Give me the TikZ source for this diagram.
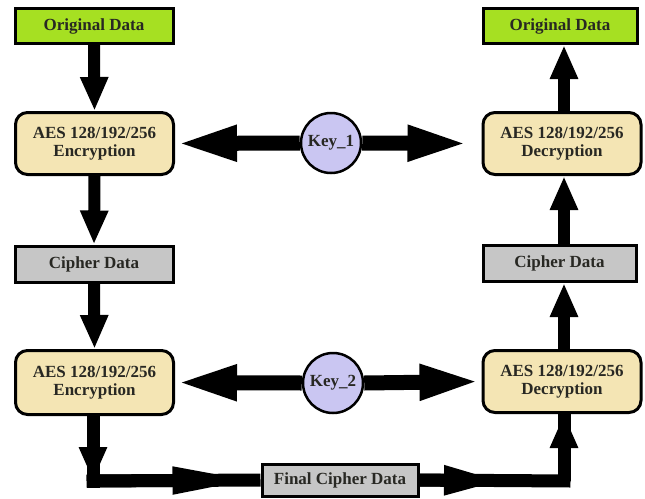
\documentclass[tikz,border=0pt]{standalone}
\usepackage{fontspec}
\setmainfont{Liberation Serif}
\usetikzlibrary{arrows.meta,calc}
\definecolor{gfill}{RGB}{166,224,34}
\definecolor{wfill}{RGB}{244,229,180}
\definecolor{cfill}{RGB}{198,198,198}
\definecolor{kfill}{RGB}{202,198,242}
\definecolor{tcol}{RGB}{40,40,35}
\begin{document}
\begin{tikzpicture}[x=1pt,y=-1pt,
  every node/.style={font=\fontsize{17}{18.5}\selectfont\bfseries, text=tcol, align=center, inner sep=0pt},
  databox/.style={draw=black, line width=3pt, rectangle},
  aesbox/.style={draw=black, line width=3pt, rounded corners=12pt, fill=wfill, minimum width=158pt, minimum height=62pt},
  keynode/.style={draw=black, line width=2.5pt, circle, fill=kfill, minimum size=60pt},
  varrow/.style={line width=12pt, -{Triangle[length=34pt,width=26pt]}},
  karrow/.style={line width=15pt, -{Triangle[length=62pt,width=32pt]}},
  barrow/.style={line width=13pt, -{Triangle[length=88pt,width=24pt]}},
  shaft/.style={line width=13pt, line join=miter}
]
\useasboundingbox (0,0) rectangle (645,498);

% left column
\node[databox, fill=gfill, minimum width=158pt, minimum height=35pt] (origL) at (94,26) {Original Data};
\node[aesbox] (encT) at (94.5,143.5) {AES 128/192/256\\Encryption};
\node[databox, fill=cfill, minimum width=158pt, minimum height=36pt] (cipL) at (94,264) {Cipher Data};
\node[aesbox, minimum height=64pt] (encB) at (94.5,382.5) {AES 128/192/256\\Encryption};

% right column
\node[databox, fill=gfill, minimum width=154pt, minimum height=35pt] (origR) at (560,26) {Original Data};
\node[aesbox] (decT) at (562,143.5) {AES 128/192/256\\Decryption};
\node[databox, fill=cfill, minimum width=153pt, minimum height=36pt] (cipR) at (559.5,263.5) {Cipher Data};
\node[aesbox] (decB) at (562,381.5) {AES 128/192/256\\Decryption};

% keys
\node[keynode] (key1) at (331,143) {Key\_1};
\node[keynode] (key2) at (333,383) {Key\_2};

% final
\node[databox, fill=cfill, minimum width=156pt, minimum height=32pt] (final) at (340,480) {Final Cipher Data};

\coordinate (rx) at (564,0);
\coordinate (c1) at (93,481);
\coordinate (c2) at (564,481);
\coordinate (h2) at (506,481);

% vertical arrows left
\draw[varrow] (origL.south) -- (encT.north);
\draw[varrow] (encT.south) -- (cipL.north);
\draw[varrow] (cipL.south) -- (encB.north);

% vertical arrows right
\draw[varrow] (decT.north -| rx) -- (origR.south -| rx);
\draw[varrow] (cipR.north -| rx) -- (decT.south -| rx);
\draw[varrow] (decB.north -| rx) -- (cipR.south -| rx);

% key arrows
\draw[karrow] (key1.west) -- (encT.east);
\draw[karrow] (key1.east) -- ($(decT.west)+(-12,0)$);
\draw[karrow] (key2.west) -- (encB.east);
\draw[karrow] (key2.east) -- (decB.west);

% bottom path
\draw[shaft] (encB.south -| c1) -- ($(c1)+(0,6.5)$);
\draw[shaft] ($(c1)+(-6.5,0)$) -- (final.west);
\draw[shaft] (final.east) -- ($(c2)+(6.5,0)$);
\draw[shaft] (c2) -- (decB.south -| rx);
\draw[varrow] (encB.south -| c1) -- (c1);
\draw[barrow] (c1) -- (final.west);
\draw[line width=13pt, -{Triangle[length=62pt,width=26pt]}] (final.east) -- (h2);
\draw[varrow] (c2) -- (decB.south -| rx);
\end{tikzpicture}
\end{document}
